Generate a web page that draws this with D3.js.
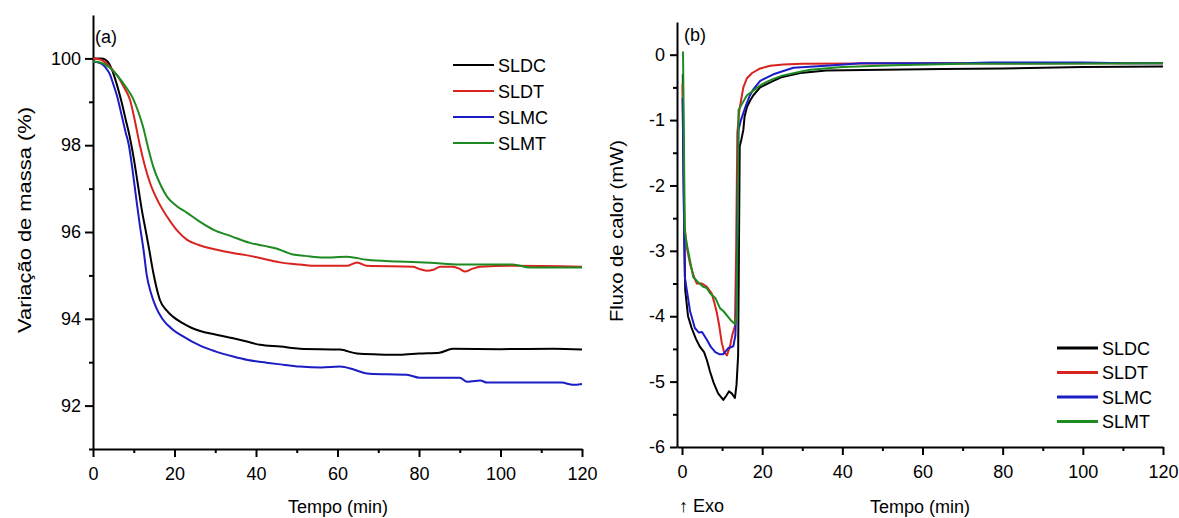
<!DOCTYPE html>
<html>
<head>
<meta charset="utf-8">
<script src="https://cdn.jsdelivr.net/npm/d3@7"></script>
<style>
  body { margin: 0; background: #fff; }
  svg text { font-family: Arial, "Liberation Sans", sans-serif; fill: #000; }
  .axis path, .axis line { stroke: #000; stroke-width: 2; }
  .axis text { font-size: 18px; }
</style>
</head>
<body>
<div id="chart"></div>
<script>
// series names and colours
const seriesNames = ['SLDC', 'SLDT', 'SLMC', 'SLMT'];
const seriesColors = ['#000000', '#d8231f', '#1c1cc4', '#1e8a22'];

// (a) mass variation (%) vs time (min)
const massSLDC = [[0,100],[2,100],[3,99.97],[4,99.87],[5,99.65],[6,99.35],[7,99.0],[8,98.6],[9,98.2],[10,97.7],[11,97.1],[12,96.5],[13,96.0],[13.8,95.59],[14.8,95.06],[15.5,94.75],[16.4,94.44],[18,94.2],[19.6,94.05],[22,93.9],[24,93.8],[26.3,93.72],[30,93.64],[34.4,93.55],[38,93.47],[41,93.4],[46,93.36],[50.8,93.31],[60.6,93.29],[64.8,93.2],[70,93.18],[75.3,93.17],[80,93.2],[85,93.22],[88.3,93.31],[100,93.3],[113,93.31],[120,93.29]];
const massSLDT = [[0,100],[2,99.97],[4.2,99.8],[6,99.6],[7.5,99.35],[9.1,99.04],[10.3,98.55],[11.5,98.0],[12.8,97.5],[14,97.13],[16,96.7],[18.2,96.35],[20.5,96.05],[23.1,95.82],[26,95.7],[30.4,95.59],[34,95.52],[38.5,95.45],[42,95.38],[45.9,95.3],[50.8,95.25],[55,95.22],[62.3,95.22],[64.8,95.3],[67.2,95.22],[78.5,95.2],[80,95.15],[81.9,95.11],[83.5,95.13],[85.2,95.2],[88.3,95.2],[90,95.15],[91.3,95.09],[93,95.15],[95,95.2],[103,95.22],[120,95.2]];
const massSLMC = [[0,99.93],[2,99.88],[3,99.8],[4.2,99.62],[5,99.4],[6,99.1],[7,98.7],[8,98.3],[8.8,98.0],[9.6,97.5],[10.5,96.85],[11.5,96.15],[12.4,95.59],[13.2,95.0],[14.2,94.6],[15.4,94.28],[17,94.0],[19.6,93.75],[22,93.6],[26.3,93.38],[30,93.25],[34.4,93.13],[38,93.05],[42.6,92.99],[46,92.95],[50.8,92.9],[56,92.88],[60.6,92.9],[64,92.83],[67.2,92.74],[72,92.72],[77,92.71],[80.2,92.64],[90,92.64],[91.8,92.55],[93,92.56],[95,92.58],[96.7,92.53],[115,92.53],[117.8,92.48],[120,92.5]];
const massSLMT = [[0,99.93],[2,99.9],[4.2,99.78],[6,99.6],[8,99.35],[9.8,99.08],[11,98.8],[12.3,98.42],[13.5,97.95],[14.8,97.5],[16.5,97.1],[18.2,96.81],[20.5,96.6],[23.1,96.44],[26,96.25],[29.6,96.05],[34,95.9],[38.5,95.75],[42,95.68],[45,95.62],[47,95.55],[49.1,95.48],[52,95.45],[56.5,95.41],[62.3,95.43],[67.2,95.36],[75,95.32],[82.7,95.29],[90,95.25],[103,95.25],[107.2,95.18],[120,95.18]];

// (b) heat flow (mW) vs time (min)
const heatSLDC = [[0.2,-0.3],[0.5,-2.5],[0.8,-3.6],[1.5,-4.0],[2.4,-4.18],[3.5,-4.35],[4.5,-4.47],[5.5,-4.55],[6.2,-4.67],[7,-4.85],[7.9,-5.02],[9,-5.18],[10.3,-5.28],[11,-5.22],[11.7,-5.15],[12.4,-5.18],[13.2,-5.25],[13.6,-5.05],[14,-4.6],[14.2,-3.0],[14.4,-1.4],[14.8,-1.3],[15.3,-1.15],[15.6,-0.95],[16.2,-0.8],[17,-0.7],[17.8,-0.62],[19.5,-0.5],[22.8,-0.4],[25,-0.34],[29.5,-0.28],[36,-0.24],[50,-0.23],[65,-0.22],[80,-0.21],[100,-0.19],[120,-0.18]];
const heatSLDT = [[0.1,-0.45],[0.3,-1.35],[0.6,-2.6],[1.2,-2.95],[2,-3.2],[3,-3.4],[3.7,-3.5],[5,-3.5],[6.2,-3.55],[7.4,-3.65],[8.1,-3.8],[8.7,-3.95],[9.3,-4.15],[9.9,-4.4],[10.5,-4.55],[11.2,-4.6],[12,-4.45],[12.5,-4.3],[13.2,-4.15],[13.5,-3.0],[13.8,-1.2],[14.3,-0.85],[15.3,-0.5],[16.2,-0.36],[17.5,-0.28],[19.5,-0.21],[22,-0.17],[25.3,-0.15],[30,-0.14],[60,-0.13],[120,-0.13]];
const heatSLMC = [[0.15,-0.66],[0.4,-2.0],[0.7,-3.4],[1.2,-3.6],[2,-3.92],[3.2,-4.18],[4.2,-4.25],[5,-4.24],[6.2,-4.36],[7.2,-4.47],[8.3,-4.55],[9.3,-4.58],[10.3,-4.58],[11.5,-4.49],[12.8,-4.46],[13.3,-4.3],[13.6,-3.8],[13.9,-2.0],[14.1,-1.15],[14.7,-1.0],[15.8,-0.8],[16.8,-0.64],[17.8,-0.53],[19.5,-0.4],[22.8,-0.3],[25.3,-0.25],[27.8,-0.2],[37.8,-0.16],[44.5,-0.13],[70,-0.13],[77,-0.12],[100,-0.12],[110,-0.13],[120,-0.13]];
const heatSLMT = [[0.25,0.05],[0.7,-2.7],[1.2,-2.9],[2,-3.15],[2.8,-3.4],[4,-3.48],[5.3,-3.55],[6.2,-3.57],[7,-3.65],[8.3,-3.72],[9.5,-3.88],[10.3,-3.92],[11.5,-4.01],[12.3,-4.07],[13.2,-4.12],[13.6,-4.0],[13.9,-2.5],[14.1,-0.85],[14.9,-0.76],[16.2,-0.62],[17.8,-0.55],[19.5,-0.47],[21,-0.42],[22.8,-0.37],[25,-0.32],[29.5,-0.26],[32,-0.23],[40,-0.19],[52.8,-0.16],[70,-0.14],[90,-0.14],[120,-0.13]];

// tick values
const ticksA_x = [0, 20, 40, 60, 80, 100, 120];
const ticksA_y = [92, 94, 96, 98, 100];
const ticksB_x = [0, 20, 40, 60, 80, 100, 120];
const ticksB_y = [-6, -5, -4, -3, -2, -1, 0];

const W = 1179, H = 518;
const svg = d3.select('#chart').append('svg').attr('width', W).attr('height', H);

function panel(cfg) {
  const x = d3.scaleLinear().domain(cfg.xDomain).range(cfg.xRange);
  const y = d3.scaleLinear().domain(cfg.yDomain).range(cfg.yRange);
  const g = svg.append('g');

  // minor ticks first
  g.append('g').attr('class', 'axis')
    .attr('transform', `translate(0,${cfg.yRange[0]})`)
    .call(d3.axisBottom(x).tickValues(cfg.xMinor).tickSize(4).tickSizeOuter(0).tickFormat(''))
    .select('.domain').remove();
  g.append('g').attr('class', 'axis')
    .attr('transform', `translate(${cfg.xRange[0]},0)`)
    .call(d3.axisLeft(y).tickValues(cfg.yMinor).tickSize(4).tickSizeOuter(0).tickFormat(''))
    .select('.domain').remove();

  const xa = g.append('g').attr('class', 'axis')
    .attr('transform', `translate(0,${cfg.yRange[0]})`)
    .call(d3.axisBottom(x).tickValues(cfg.xTicks).tickSize(8).tickSizeOuter(0).tickPadding(6));
  xa.selectAll('text').attr('dy', '0.95em');
  const ya = g.append('g').attr('class', 'axis')
    .attr('transform', `translate(${cfg.xRange[0]},0)`)
    .call(d3.axisLeft(y).tickValues(cfg.yTicks).tickSize(cfg.yTickLen).tickSizeOuter(0).tickPadding(cfg.yPad)
      .tickFormat(d => d < 0 ? '-' + Math.abs(d) : d));
  g.selectAll('.axis text').style('font-size', '18px');

  const line = d3.line().x(d => x(d[0])).y(d => y(d[1])).curve(cfg.curve);
  cfg.series.forEach((s, i) => {
    g.append('path').datum(s)
      .attr('d', line)
      .attr('fill', 'none')
      .attr('stroke', seriesColors[i])
      .attr('stroke-width', 2)
      .attr('stroke-linejoin', 'round');
  });

  // legend
  seriesNames.forEach((n, i) => {
    const ly = cfg.legend.y + i * cfg.legend.step;
    g.append('line')
      .attr('x1', cfg.legend.x).attr('x2', cfg.legend.x + 41)
      .attr('y1', ly).attr('y2', ly)
      .attr('stroke', seriesColors[i]).attr('stroke-width', cfg.legend.sw);
    g.append('text')
      .attr('x', cfg.legend.x + 45).attr('y', ly + 6.5)
      .style('font-size', '18px').text(n);
  });

  g.append('text').attr('x', cfg.tag.x).attr('y', cfg.tag.y)
    .style('font-size', '18px').text(cfg.tag.t);

  g.append('text')
    .attr('x', cfg.xTitle.x).attr('y', 513)
    .attr('text-anchor', 'middle')
    .style('font-size', '18px').text('Tempo (min)');

  g.append('text')
    .attr('transform', `translate(${cfg.yTitle.x},${cfg.yTitle.y}) rotate(-90)`)
    .attr('text-anchor', 'middle')
    .attr('dy', '0.35em')
    .attr('textLength', cfg.yTitle.len)
    .attr('lengthAdjust', 'spacingAndGlyphs')
    .style('font-size', '19px').text(cfg.yTitle.t);
  return g;
}

panel({
  xDomain: [0, 120], xRange: [93, 582],
  yDomain: [91, 101], yRange: [449, 15],
  xTicks: ticksA_x, xMinor: d3.range(10, 120, 20),
  yTicks: ticksA_y, yMinor: [91, 93, 95, 97, 99],
  yTickLen: 8, yPad: 4,
  curve: d3.curveMonotoneX,
  series: [massSLDC, massSLDT, massSLMC, massSLMT],
  legend: { x: 453, y: 65, step: 26, sw: 2 },
  tag: { x: 95, y: 43, t: '(a)' },
  xTitle: { x: 338 },
  yTitle: { x: 24, y: 220, len: 226, t: 'Variação de massa (%)' }
});

const gb = panel({
  xDomain: [-1.25, 120], xRange: [677, 1163],
  yDomain: [-6, 0.5], yRange: [447, 22],
  xTicks: ticksB_x, xMinor: d3.range(10, 120, 20),
  yTicks: ticksB_y, yMinor: [-5.5, -4.5, -3.5, -2.5, -1.5, -0.5],
  yTickLen: 7, yPad: 5,
  curve: d3.curveLinear,
  series: [heatSLDC, heatSLDT, heatSLMC, heatSLMT],
  legend: { x: 1057, y: 348, step: 24.5, sw: 3 },
  tag: { x: 684, y: 41, t: '(b)' },
  xTitle: { x: 920 },
  yTitle: { x: 616, y: 231, len: 182, t: 'Fluxo de calor (mW)' }
});

gb.append('text').attr('x', 679).attr('y', 512)
  .style('font-size', '18px').text('↑ Exo');
</script>
</body>
</html>
